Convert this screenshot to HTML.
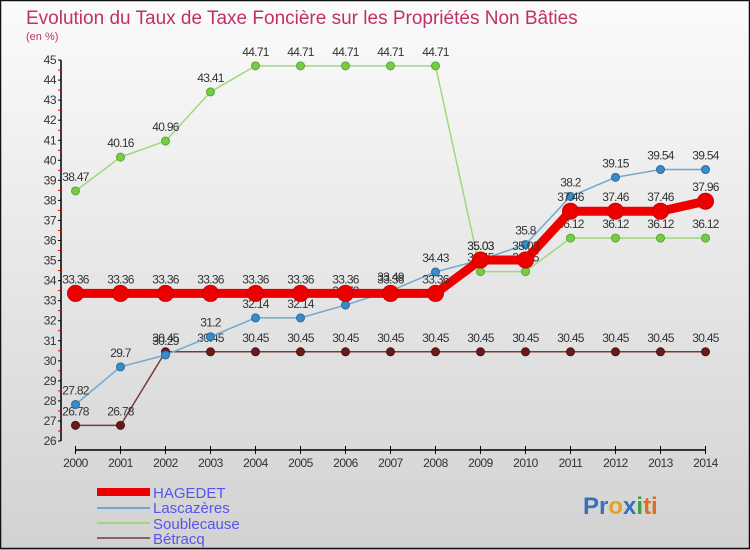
<!DOCTYPE html>
<html><head><meta charset="utf-8"><style>
html,body{margin:0;padding:0}
body{width:750px;height:550px;overflow:hidden;font-family:"Liberation Sans",sans-serif}
</style></head><body>
<svg id="chart" width="750" height="550" xmlns="http://www.w3.org/2000/svg" style="display:block">
<defs><linearGradient id="bg" x1="0" y1="0" x2="0" y2="1"><stop offset="0" stop-color="#fbfbfb"/><stop offset="1" stop-color="#d2d2d2"/></linearGradient></defs>
<rect x="0" y="0" width="750" height="550" fill="url(#bg)"/>
<rect x="0.5" y="0.5" width="749" height="548" fill="none" stroke="#111" stroke-width="1.5"/>
<text x="26" y="24" font-size="19" fill="#c0306a">Evolution du Taux de Taxe Foncière sur les Propriétés Non Bâties</text>
<text x="26" y="40" font-size="11" fill="#c0306a">(en %)</text>
<g id="axes"></g><g id="series"></g>
<g>
<rect x="97" y="488" width="53" height="8" fill="#e00"/>
<text x="153" y="498" font-size="15" fill="#5555ee">HAGEDET</text>
<line x1="97" y1="508" x2="150" y2="508" stroke="#6fa8d0" stroke-width="2"/>
<text x="153" y="513" font-size="15" fill="#5555ee">Lascazères</text>
<line x1="97" y1="523" x2="150" y2="523" stroke="#9fd87f" stroke-width="2"/>
<text x="153" y="529" font-size="15" fill="#5555ee">Soublecause</text>
<line x1="97" y1="538" x2="150" y2="538" stroke="#8a6060" stroke-width="2"/>
<text x="153" y="544" font-size="15" fill="#5555ee">Bétracq</text>
</g>
<text x="583" y="514" font-size="24" font-weight="bold"><tspan fill="#3a6fc0">Pr</tspan><tspan fill="#e8a020">o</tspan><tspan fill="#3a6fc0">x</tspan><tspan fill="#3aa040">i</tspan><tspan fill="#e07020">ti</tspan></text>
</svg>
<script>
const years=[2000,2001,2002,2003,2004,2005,2006,2007,2008,2009,2010,2011,2012,2013,2014];
const yTicks=[26,27,28,29,30,31,32,33,34,35,36,37,38,39,40,41,42,43,44,45];
const hagedet=[33.36,33.36,33.36,33.36,33.36,33.36,33.36,33.36,33.36,35.03,35.03,37.46,37.46,37.46,37.96];
const lascazeres=[27.82,29.7,30.29,31.2,32.14,32.14,32.78,33.49,34.43,35.03,35.8,38.2,39.15,39.54,39.54];
const soublecause=[38.47,40.16,40.96,43.41,44.71,44.71,44.71,44.71,44.71,34.45,34.45,36.12,36.12,36.12,36.12];
const betracq=[26.78,26.78,30.45,30.45,30.45,30.45,30.45,30.45,30.45,30.45,30.45,30.45,30.45,30.45,30.45];
const NS="http://www.w3.org/2000/svg";
const X0=75.5,XS=45,Y0=441,YMIN=26,YPX=20.05;
function xs(i){return X0+i*XS;}
function ys(v){return Y0-(v-YMIN)*YPX;}
function mk(tag,attrs,parent){const e=document.createElementNS(NS,tag);for(const k in attrs)e.setAttribute(k,attrs[k]);parent.appendChild(e);return e;}
const ax=document.getElementById('axes');
const yl=mk('line',{x1:61,y1:ys(45),x2:61,y2:ys(26),stroke:'#000','stroke-width':1.5},ax);


const xl=mk('line',{x1:X0,y1:450,x2:xs(14),y2:450,stroke:'#000','stroke-width':1.5},ax);


yTicks.forEach(v=>{
  mk('line',{x1:58,y1:ys(v),x2:61,y2:ys(v),stroke:'#000'},ax);
  if(v<45)mk('line',{x1:58,y1:ys(v+0.5),x2:61,y2:ys(v+0.5),stroke:'#e00'},ax);
  const t=mk('text',{x:56,y:ys(v)+4,'font-size':12,'text-anchor':'end',fill:'#333','letter-spacing':'-0.5'},ax);
  
  
  t.textContent=v;
});
years.forEach((yr,i)=>{
  mk('line',{x1:xs(i),y1:446,x2:xs(i),y2:454,stroke:'#000'},ax);
  const t=mk('text',{x:xs(i),y:467,'font-size':12,'text-anchor':'middle',fill:'#333','letter-spacing':'-0.5'},ax);
  
  
  t.textContent=yr;
});
const sg=document.getElementById('series');
function draw(name,data,color,width,r,dot,stroke){
  const g=mk('g',{},sg);
  
  
  const pl=mk('polyline',{points:data.map((v,i)=>xs(i)+','+ys(v)).join(' '),fill:'none',stroke:color,'stroke-width':width,'stroke-linejoin':'round'},g);
  
  
  data.forEach((v,i)=>{
    const c=mk('circle',{cx:xs(i),cy:ys(v),r:r,fill:dot,stroke:stroke,'stroke-width':1},g);
    
    
    const t=mk('text',{x:xs(i),y:ys(v)-10,'font-size':12,'text-anchor':'middle',fill:'#333','letter-spacing':'-0.7'},g);
    
    
    t.textContent=v;
  });
}
draw('betracq',betracq,'#7a3a3a',1.5,4,'#6a1a1a','#4a1010');
draw('soublecause',soublecause,'#9fd87f',1.5,4,'#77cc44','#55aa33');
draw('lascazeres',lascazeres,'#6fa8d0',1.5,4,'#3a8cc8','#2a6a9a');
draw('hagedet',hagedet,'#ee0000',9,8,'#ee0000','#cc0000');
</script>
</body></html>
